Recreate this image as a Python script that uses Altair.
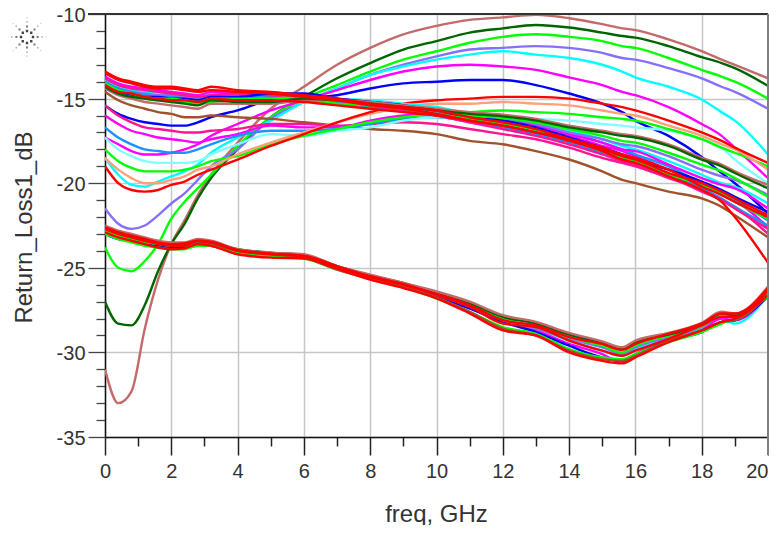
import altair as alt
import pandas as pd

# Frequency samples, GHz
freq = [0, .4, .8, 1.2, 1.6, 2, 2.4, 2.8, 3.2, 4, 5, 6, 7, 8, 9, 10, 11, 12, 13, 14, 15, 15.6, 16, 17, 18, 18.6, 19, 20]

# Family that crosses the others and arcs up to about -10 dB (values are loss magnitudes, dB)
arc_rosy = [31, 33, 32.3, 28.6, 25.7, 23.6, 22.2, 20.7, 19.5, 17.6, 15.6, 14.3, 13, 12, 11.2, 10.7, 10.35, 10.2, 10.05, 10.25, 10.6, 10.85, 10.95, 11.5, 12.2, 12.7, 13, 13.8]
arc_dkgreen = [27, 28.3, 28.4, 27.2, 25.2, 23.6, 22.4, 20.9, 19.7, 18, 16.1, 14.9, 13.8, 12.9, 12.1, 11.6, 11.1, 10.85, 10.65, 10.8, 11.1, 11.3, 11.4, 11.9, 12.55, 12.9, 13.2, 14.25]
arc_green = [23.8, 25, 25.2, 24.6, 23.6, 22.1, 21.1, 20.3, 19.5, 17.8, 16.1, 15, 14.2, 13.4, 12.7, 12.2, 11.7, 11.35, 11.2, 11.35, 11.6, 11.9, 12, 12.6, 13.3, 13.7, 14, 15]
arc_slate = [21.5, 22.4, 22.7, 22.5, 21.9, 21.2, 20.6, 19.8, 19, 18, 16.2, 15.2, 14.4, 13.6, 13, 12.5, 12.1, 12, 11.9, 12, 12.3, 12.6, 12.7, 13.2, 13.8, 14.3, 14.6, 15.6]
arc_cyan = [18.5, 19.5, 20.1, 20.2, 19.9, 19.6, 19.3, 18.9, 18.2, 17.3, 16.3, 15.2, 14.4, 13.6, 13.1, 12.7, 12.4, 12.2, 12.4, 12.6, 13, 13.4, 13.75, 14.3, 15.05, 15.8, 16.3, 18.3]
arc_magenta = [17.3, 17.7, 18.1, 18.3, 18.3, 18.2, 18, 17.7, 17.2, 16.5, 15.7, 15.1, 14.5, 13.9, 13.4, 13.1, 13, 13.1, 13.3, 13.75, 14.2, 14.6, 14.8, 15.5, 16.5, 17.2, 17.9, 19.7]
arc_blue = [15.4, 15.9, 16.2, 16.4, 16.5, 16.6, 16.6, 16.4, 16.1, 15.7, 15.1, 15, 14.8, 14.4, 14.1, 14, 13.9, 13.9, 14.2, 14.7, 15.3, 15.8, 16.3, 17.2, 18.45, 19.4, 20, 21.8]

# Family spread at the left that rises to the middle of the plot
mid_red = [19, 20, 20.4, 20.5, 20.4, 20.1, 19.9, 19.5, 19.2, 18.6, 17.8, 17.1, 16.4, 15.8, 15.3, 15.1, 15, 14.9, 14.9, 15, 15.3, 15.5, 15.7, 16.3, 17, 17.5, 17.9, 18.8]
mid_salmon = [18.5, 19.2, 19.7, 20, 20, 19.8, 19.6, 19.2, 19, 18.3, 17.6, 17, 16.4, 15.9, 15.5, 15.3, 15.3, 15.2, 15.3, 15.4, 15.7, 15.9, 16, 16.6, 17.2, 17.7, 18, 19.2]
mid_green = [18, 18.7, 19.1, 19.3, 19.3, 19.3, 19.2, 19, 18.7, 18.4, 17.7, 17.2, 16.8, 16.4, 16.1, 15.9, 15.8, 15.7, 15.8, 15.9, 16.1, 16.2, 16.3, 16.8, 17.4, 17.9, 18.2, 19]
mid_ltcyan = [17.3, 18, 18.4, 18.7, 18.8, 18.8, 18.8, 18.7, 18.3, 17.7, 17.1, 17.2, 16.9, 16.7, 16.3, 16.1, 16.1, 16.1, 16.2, 16.3, 16.5, 16.6, 16.7, 16.9, 17.4, 17.9, 18.6, 20]
mid_dodger = [16.7, 17.3, 17.7, 18, 18.1, 18.2, 18.2, 18, 17.7, 17.2, 16.9, 16.9, 16.8, 16.5, 16.2, 16.1, 16.3, 16.4, 16.6, 17, 17.6, 18, 18.3, 19, 20, 20.6, 21, 22.2]
mid_magenta = [16, 16.5, 16.9, 17.1, 17.3, 17.4, 17.5, 17.6, 17.4, 17.1, 16.6, 16.7, 16.7, 16.3, 16, 15.9, 16.1, 16.4, 16.8, 17.2, 17.8, 18.1, 18.4, 19.2, 20, 20.6, 21, 22.6]
mid_pink = [15.4, 16, 16.4, 16.7, 16.8, 16.9, 17, 17, 16.9, 16.8, 16.5, 16.5, 16.6, 16.5, 16.4, 16.5, 16.8, 17.1, 17.4, 17.9, 18.5, 18.8, 19, 19.7, 20.4, 21, 21.4, 23]
mid_sienna = [14.6, 15.1, 15.4, 15.6, 15.8, 15.9, 16.1, 16.1, 16, 16.1, 16.2, 16.4, 16.6, 16.8, 16.9, 17.1, 17.5, 17.7, 18.1, 18.6, 19.3, 19.8, 20, 20.5, 20.9, 21.4, 21.9, 23.2]

# Tight family that starts near -14 dB
top_rosy = [14.4, 14.8, 15, 15.2, 15.3, 15.4, 15.5, 15.6, 15.3, 15.3, 15.3, 15.1, 15.1, 15.2, 15.4, 15.6, 15.8, 15.95, 16.2, 16.6, 16.9, 17.1, 17.2, 17.7, 18.5, 18.9, 19.3, 20.1]
top_dkgreen = [14.3, 14.7, 14.9, 15, 15.1, 15.2, 15.3, 15.4, 15.1, 15.2, 15.2, 15, 15.1, 15.3, 15.5, 15.7, 15.9, 16.05, 16.3, 16.7, 17, 17.2, 17.3, 17.8, 18.6, 19, 19.4, 20.3]
top_green = [14.1, 14.5, 14.7, 14.9, 15, 15, 15.1, 15.2, 15, 15, 15, 14.9, 15.1, 15.3, 15.5, 15.7, 16, 16.15, 16.4, 16.8, 17.2, 17.5, 17.6, 18.2, 18.9, 19.3, 19.7, 20.8]
top_slate = [14, 14.4, 14.6, 14.7, 14.8, 14.8, 14.9, 15, 14.8, 14.8, 14.9, 14.9, 15.1, 15.2, 15.5, 15.8, 16, 16.2, 16.5, 17, 17.4, 17.7, 17.8, 18.4, 19.2, 19.6, 19.8, 20.7]
top_cyan = [13.9, 14.3, 14.5, 14.6, 14.7, 14.7, 14.8, 14.9, 14.7, 14.7, 14.8, 14.8, 15, 15.1, 15.3, 15.5, 15.9, 16.2, 16.5, 16.9, 17.4, 17.8, 18, 18.7, 19.5, 20, 20.2, 21.2]
top_magenta = [13.7, 14.1, 14.3, 14.4, 14.5, 14.6, 14.7, 14.8, 14.6, 14.6, 14.7, 14.8, 15, 15.2, 15.4, 15.7, 16, 16.3, 16.6, 17.1, 17.6, 18, 18.1, 18.9, 19.7, 20.1, 20.3, 21.5]
top_blue = [14.2, 14.6, 14.8, 14.9, 14.9, 15, 15, 15.1, 14.9, 14.9, 14.7, 14.7, 15, 15.2, 15.4, 15.7, 16.1, 16.3, 16.7, 17.3, 17.9, 18.3, 18.6, 19.2, 19.9, 20.4, 20.8, 21.7]
top_green2 = [14.4, 14.7, 14.9, 15, 15.1, 15.1, 15.2, 15.3, 15.2, 15.1, 15.1, 15.1, 15.3, 15.4, 15.6, 15.9, 16.2, 16.5, 16.9, 17.4, 18.1, 18.5, 18.7, 19.5, 20.1, 20.6, 21.1, 22.1]
top_dodger = [14, 14.4, 14.6, 14.8, 14.9, 14.9, 15, 15.1, 14.9, 14.9, 14.9, 14.9, 15.2, 15.5, 15.7, 16, 16.4, 16.7, 17.1, 17.6, 18.2, 18.6, 18.8, 19.5, 20.3, 20.9, 21.4, 22.5]
top_pink = [13.8, 14.2, 14.4, 14.5, 14.6, 14.7, 14.8, 14.9, 14.8, 14.7, 14.8, 14.9, 15.1, 15.4, 15.7, 16, 16.4, 16.8, 17.2, 17.7, 18.3, 18.7, 18.9, 19.6, 20.5, 21, 21.5, 22.7]
top_red1 = [13.4, 13.8, 14, 14.2, 14.3, 14.3, 14.4, 14.5, 14.3, 14.5, 14.6, 14.8, 15, 15.3, 15.5, 15.7, 16.1, 16.4, 16.8, 17.4, 18, 18.4, 18.6, 19.4, 20, 20.5, 20.9, 21.9]
top_red2 = [14.2, 14.6, 14.7, 14.9, 15, 15.1, 15.1, 15.2, 15, 15.1, 15.1, 15.2, 15.4, 15.6, 15.8, 16, 16.3, 16.6, 17, 17.4, 17.9, 18.3, 18.5, 19.2, 20.2, 20.7, 21.1, 22]
top_red3 = [13.5, 13.9, 14.1, 14.3, 14.4, 14.4, 14.5, 14.6, 14.5, 14.6, 14.7, 14.9, 15.1, 15.4, 15.6, 15.9, 16.3, 16.6, 17, 17.5, 18.1, 18.6, 18.8, 19.6, 20.4, 21.1, 22, 24.7]

# Lower band, bottoming out near 15.6 GHz
low_rosy = [22.5, 22.8, 23, 23.2, 23.4, 23.5, 23.5, 23.3, 23.4, 23.9, 24.1, 24.2, 24.9, 25.4, 25.9, 26.4, 27, 27.8, 28.2, 28.85, 29.35, 29.7, 29.3, 28.85, 28.25, 27.6, 27.7, 26.1]
low_dkgreen = [22.6, 22.9, 23.1, 23.3, 23.5, 23.6, 23.6, 23.4, 23.5, 23.9, 24.1, 24.25, 24.9, 25.45, 25.9, 26.5, 27.1, 27.9, 28.3, 28.95, 29.45, 29.8, 29.4, 28.95, 28.35, 27.7, 27.8, 26.3]
low_green = [22.8, 23.1, 23.3, 23.5, 23.6, 23.7, 23.7, 23.5, 23.6, 24, 24.2, 24.3, 24.95, 25.5, 26, 26.5, 27.2, 28, 28.5, 29.1, 29.6, 30, 29.6, 29, 28.45, 27.8, 27.9, 26.5]
low_slate = [22.7, 23, 23.2, 23.4, 23.55, 23.65, 23.65, 23.45, 23.55, 24, 24.15, 24.3, 25, 25.5, 26, 26.6, 27.3, 28.1, 28.6, 29.2, 29.7, 30.1, 29.7, 29.1, 28.5, 27.8, 27.9, 26.4]
low_cyan = [22.9, 23.2, 23.3, 23.5, 23.6, 23.7, 23.7, 23.5, 23.6, 24, 24.2, 24.3, 25, 25.55, 26, 26.6, 27.3, 28.1, 28.6, 29.3, 29.9, 30.2, 29.8, 29.2, 28.6, 28, 28.3, 26.6]
low_magenta = [22.8, 23.1, 23.3, 23.5, 23.7, 23.8, 23.75, 23.55, 23.65, 24.05, 24.25, 24.35, 25, 25.6, 26.1, 26.7, 27.4, 28.2, 28.7, 29.5, 30.1, 30.6, 30.1, 29.3, 28.7, 28, 28.1, 26.6]
low_blue = [23, 23.3, 23.4, 23.6, 23.7, 23.8, 23.8, 23.6, 23.7, 24.1, 24.3, 24.4, 25, 25.6, 26.1, 26.7, 27.4, 28.2, 28.8, 29.6, 30.3, 30.5, 30.2, 29.3, 28.8, 28.2, 28.1, 26.7]
low_sienna = [22.6, 23, 23.2, 23.4, 23.5, 23.6, 23.6, 23.5, 23.6, 24, 24.2, 24.4, 25.1, 25.65, 26.1, 26.75, 27.6, 28.6, 29, 29.9, 30.4, 30.5, 30.2, 29.3, 28.7, 28.2, 28.1, 26.6]
low_green2 = [23, 23.3, 23.5, 23.7, 23.8, 23.9, 23.9, 23.7, 23.7, 24.1, 24.3, 24.45, 25.1, 25.6, 26.15, 26.8, 27.6, 28.5, 28.9, 29.8, 30.3, 30.4, 30.1, 29.4, 28.8, 28.3, 28, 26.7]
low_red1 = [22.7, 23, 23.2, 23.4, 23.6, 23.7, 23.7, 23.4, 23.5, 24, 24.2, 24.3, 24.9, 25.5, 25.95, 26.6, 27.3, 28.3, 28.5, 29.3, 29.9, 30.2, 29.9, 29.2, 28.4, 27.9, 27.9, 26.3]
low_red2 = [22.9, 23.2, 23.4, 23.6, 23.8, 23.9, 23.85, 23.6, 23.7, 24.2, 24.4, 24.45, 25.05, 25.7, 26.2, 26.8, 27.7, 28.7, 29, 30, 30.5, 30.65, 30.3, 29.4, 28.7, 28.2, 28, 26.6]
low_red3 = [22.6, 22.9, 23.1, 23.3, 23.5, 23.6, 23.55, 23.4, 23.45, 23.95, 24.15, 24.3, 24.95, 25.55, 26, 26.55, 27.2, 28.1, 28.4, 29.1, 29.5, 29.85, 29.5, 28.9, 28.3, 27.7, 27.7, 26.2]

ROSY, DKGREEN, GREEN, SLATE, CYAN = "#c46a6a", "#006400", "#00ff00", "#8470ff", "#00ffff"
MAGENTA, BLUE, RED, SALMON, LTCYAN = "#ff00ff", "#0000ff", "#ff0000", "#ffa07a", "#7fffff"
DODGER, PINK, SIENNA = "#1e90ff", "#ff1493", "#a0522d"

series = [
    (arc_rosy, ROSY), (arc_dkgreen, DKGREEN), (arc_green, GREEN), (arc_slate, SLATE),
    (arc_cyan, CYAN), (arc_magenta, MAGENTA), (arc_blue, BLUE),
    (mid_sienna, SIENNA), (mid_pink, PINK), (mid_magenta, MAGENTA), (mid_dodger, DODGER),
    (mid_ltcyan, LTCYAN), (mid_green, GREEN), (mid_salmon, SALMON), (mid_red, RED),
    (top_cyan, CYAN), (top_magenta, MAGENTA), (top_slate, SLATE), (top_dodger, DODGER),
    (top_pink, PINK), (top_blue, BLUE), (top_green, GREEN), (top_green2, GREEN),
    (top_rosy, ROSY), (top_dkgreen, DKGREEN), (top_red2, RED), (top_red3, RED), (top_red1, RED),
    (low_cyan, CYAN), (low_magenta, MAGENTA), (low_blue, BLUE), (low_slate, SLATE),
    (low_green, GREEN), (low_green2, GREEN), (low_sienna, SIENNA), (low_dkgreen, DKGREEN),
    (low_rosy, ROSY), (low_red3, RED), (low_red1, RED), (low_red2, RED),
]

rows, ids, colors = [], [], []
for i, (vals, col) in enumerate(series):
    if len(vals) != len(freq):
        raise ValueError(f"series {i} has {len(vals)} values")
    name = f"s{i:02d}"
    ids.append(name)
    colors.append(col)
    rows += [{"freq": f, "loss": -v, "id": name} for f, v in zip(freq, vals)]
data = pd.DataFrame(rows)

FONT = "Liberation Sans"
x_axis = alt.Axis(
    values=list(range(0, 21)),
    labelExpr="datum.value % 2 === 0 ? datum.label : ''",
    labelFont=FONT, labelFontSize=20, labelColor="#333333", labelPadding=6, labelOverlap=False,
    labelFlush=False,
    labelAlign={"condition": {"test": "datum.value === 20", "value": "right"}, "value": "center"},
    title="freq, GHz", titleFont=FONT, titleFontSize=24, titleFontWeight="normal",
    titleColor="#333333", titlePadding=21, titleX=331,
    tickSize={"condition": {"test": "datum.value % 2 === 0", "value": 18}, "value": 9},
    tickColor="#222222", tickWidth=1.5, domainColor="#111111", domainWidth=1.5,
    grid=True, gridColor="#c6c6c6", gridWidth=1.5,
    gridOpacity={"condition": {"test": "datum.value % 2 === 0", "value": 1}, "value": 0},
)
y_axis = alt.Axis(
    values=list(range(-35, -9)),
    labelExpr="datum.value % 5 === 0 ? '' + datum.value : ''",
    labelFont=FONT, labelFontSize=20, labelColor="#333333", labelPadding=3, labelOverlap=False,
    labelFlush=False, labelOffset=1.5,
    title="Return_Loss1_dB", titleFont=FONT, titleFontSize=24, titleFontWeight="normal",
    titleColor="#333333", titlePadding=20, titleY=213,
    tickSize={"condition": {"test": "datum.value % 5 === 0", "value": 17}, "value": 9},
    tickColor="#444444", tickWidth=1.3, domainColor="#111111", domainWidth=1.5,
    grid=True, gridColor="#c6c6c6", gridWidth=1.5,
    gridOpacity={"condition": {"test": "datum.value % 5 === 0", "value": 1}, "value": 0},
)

lines = alt.Chart(data).mark_line(strokeWidth=2.4, clip=True, strokeJoin="round", interpolate="monotone").encode(
    x=alt.X("freq:Q", scale=alt.Scale(domain=[0, 20], nice=False), axis=x_axis),
    y=alt.Y("loss:Q", scale=alt.Scale(domain=[-35, -10], nice=False), axis=y_axis),
    color=alt.Color("id:N", scale=alt.Scale(domain=ids, range=colors), legend=None),
    order=alt.Order("freq:Q"),
)

top_line = alt.Chart().mark_rule(color="#333333", strokeWidth=2).encode(
    x=alt.value(-17), x2=alt.value(663), y=alt.value(0))
right_line = alt.Chart().mark_rule(color="#808080", strokeWidth=2).encode(
    x=alt.value(663), y=alt.value(0), y2=alt.value(441))

# Spark logo: rings of small dots along eight spokes, in symbol units
SPOKES = [(1, 0), (.707, .707), (0, 1), (-.707, .707), (-1, 0), (-.707, -.707), (0, -1), (.707, -.707)]


def ring(radius, half):
    parts = []
    for ux, uy in SPOKES:
        cx, cy = ux * radius, uy * radius
        parts.append(f"M{cx-half:.3f} {cy-half:.3f}H{cx+half:.3f}V{cy+half:.3f}H{cx-half:.3f}Z")
    return "".join(parts)


LOGO_X, LOGO_Y = -78, 23
logo = [
    alt.Chart().mark_point(shape=ring(r, h), size=1600, filled=True, color=c, opacity=1).encode(
        x=alt.value(LOGO_X), y=alt.value(LOGO_Y))
    for r, h, c in [(.3, .06, "#444444"), (.53, .05, "#777777"), (.76, .035, "#a8a8a8"), (.97, .03, "#cfcfcf")]
]

chart = alt.layer(lines, top_line, right_line, *logo).properties(
    width=663, height=423,
    autosize=alt.AutoSizeParams(type="none"),
    padding={"left": 97, "top": 6, "right": 1, "bottom": 88},
    background="white",
).configure_view(stroke=None)

chart.save("out.html", embed_options={"renderer": "svg", "actions": False})
